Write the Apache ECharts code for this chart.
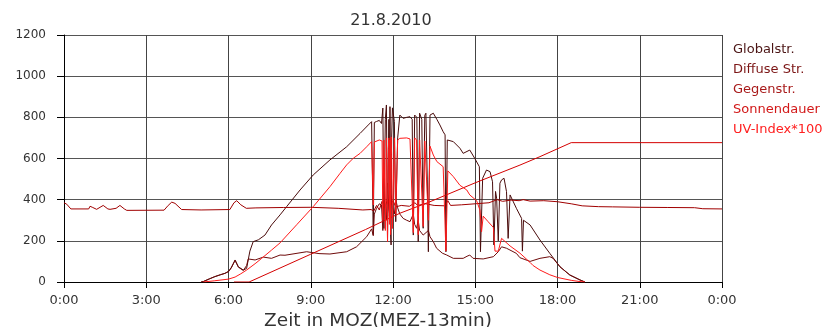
<!DOCTYPE html>
<html>
<head>
<meta charset="utf-8">
<script src="https://cdn.jsdelivr.net/npm/echarts@6/dist/echarts.min.js"></script>
<style>
  html, body { margin: 0; padding: 0; background: #fff; }
  #chart { width: 840px; height: 327px; }
</style>
</head>
<body>
<div id="chart"></div>
<script>
// Radiation measurements of 21 Aug 2010, time in decimal hours (local mean time)
const titleText = '21.8.2010';
const xTickLabels = ['0:00', '3:00', '6:00', '9:00', '12:00', '15:00', '18:00', '21:00', '0:00'];
const yTicks = [0, 200, 400, 600, 800, 1000, 1200];
const seriesNames = ['Globalstr.', 'Diffuse Str.', 'Gegenstr.', 'Sonnendauer', 'UV-Index*100'];

const globalHours = [5.0, 5.08, 5.3, 5.5, 5.7, 5.87, 6.0, 6.1, 6.24, 6.36, 6.54, 6.66, 6.78, 6.9, 7.09, 7.33, 7.57, 7.88, 8.12, 8.61, 9.09, 9.7, 10.31, 10.8, 11.1, 11.22, 11.25, 11.28, 11.32, 11.4, 11.5, 11.58, 11.63, 11.67, 11.72, 11.76, 11.8, 11.83, 11.85, 11.87, 11.89, 11.91, 11.93, 11.95, 11.98, 12.05, 12.1, 12.17, 12.25, 12.37, 12.5, 12.62, 12.7, 12.74, 12.79, 12.87, 12.92, 12.97, 13.05, 13.1, 13.16, 13.2, 13.25, 13.29, 13.35, 13.47, 13.6, 13.71, 13.83, 13.9, 13.93, 13.98, 14.2, 14.44, 14.56, 14.8, 14.98, 15.15, 15.19, 15.27, 15.41, 15.54, 15.63, 15.68, 15.74, 15.78, 15.84, 15.9, 15.96, 16.05, 16.14, 16.2, 16.27, 16.5, 16.69, 16.72, 16.76, 17.0, 17.36, 17.72, 18.09, 18.45, 18.82, 19.0];
const globalValues = [0, 2, 15, 26, 35, 42, 52, 70, 107, 74, 58, 66, 150, 196, 205, 228, 277, 326, 366, 447, 520, 593, 657, 722, 763, 779, 770, 230, 775, 780, 785, 770, 845, 260, 790, 860, 200, 600, 790, 320, 852, 240, 180, 700, 846, 780, 293, 700, 811, 795, 800, 803, 790, 228, 811, 800, 196, 820, 790, 261, 810, 820, 500, 147, 811, 820, 790, 763, 730, 715, 147, 690, 682, 650, 625, 641, 601, 560, 147, 504, 544, 536, 487, 180, 440, 407, 200, 480, 496, 504, 439, 212, 423, 358, 309, 150, 300, 277, 204, 139, 74, 34, 10, 0];

const diffuseHours = [5.0, 5.08, 5.3, 5.5, 5.7, 5.87, 6.0, 6.1, 6.24, 6.36, 6.54, 6.66, 6.72, 6.97, 7.27, 7.57, 7.88, 8.06, 8.85, 9.3, 9.7, 10.31, 10.67, 11.04, 11.22, 11.28, 11.32, 11.4, 11.5, 11.58, 11.63, 11.67, 11.72, 11.76, 11.8, 11.85, 11.89, 11.93, 11.98, 12.05, 12.1, 12.17, 12.25, 12.37, 12.5, 12.62, 12.74, 12.79, 12.86, 12.92, 12.97, 13.1, 13.29, 13.35, 13.47, 13.59, 13.8, 13.96, 14.2, 14.56, 14.7, 14.8, 14.92, 15.29, 15.66, 15.84, 15.96, 16.14, 16.5, 16.63, 17.0, 17.36, 17.72, 17.84, 18.09, 18.45, 18.82, 19.0];
const diffuseValues = [0, 2, 15, 26, 35, 42, 50, 68, 105, 72, 56, 80, 112, 107, 121, 115, 131, 130, 147, 138, 136, 147, 171, 220, 258, 225, 330, 358, 380, 374, 250, 440, 330, 300, 480, 350, 320, 420, 360, 330, 400, 360, 330, 309, 300, 293, 330, 280, 261, 300, 250, 228, 250, 220, 196, 164, 140, 131, 115, 115, 125, 131, 115, 112, 123, 147, 171, 164, 139, 118, 100, 115, 123, 115, 74, 34, 10, 0];

const gegenHours = [0.0, 0.1, 0.25, 0.9, 0.95, 1.05, 1.19, 1.43, 1.6, 1.68, 1.9, 2.04, 2.2, 2.29, 3.65, 3.8, 3.93, 4.05, 4.29, 5.0, 6.05, 6.2, 6.3, 6.45, 6.65, 7.0, 8.0, 9.0, 10.0, 10.9, 11.2, 11.3, 11.4, 11.5, 11.6, 11.7, 11.8, 11.9, 12.0, 12.1, 12.3, 12.6, 12.8, 12.9, 13.2, 13.5, 13.9, 14.0, 14.1, 14.5, 15.0, 15.5, 15.8, 16.0, 16.3, 16.6, 16.75, 17.0, 17.5, 18.0, 18.5, 18.9, 19.5, 20.0, 21.0, 22.0, 23.0, 23.3, 24.0];
const gegenValues = [385, 378, 355, 355, 368, 362, 353, 372, 355, 353, 358, 372, 355, 348, 349, 372, 388, 382, 352, 350, 352, 385, 395, 375, 358, 360, 362, 363, 358, 350, 352, 345, 372, 350, 392, 360, 402, 370, 395, 365, 372, 368, 385, 372, 380, 372, 370, 395, 372, 375, 380, 385, 400, 392, 398, 395, 400, 393, 395, 390, 380, 370, 366, 365, 363, 362, 361, 356, 355];

const sonnenHours = [6.2, 6.75, 9.0, 11.0, 12.25, 13.35, 15.0, 16.63, 17.36, 18.5, 24.0];
const sonnenValues = [0, 0, 135, 255, 334, 390, 482, 568, 609, 677, 677];

const uvHours = [5.08, 5.5, 6.0, 6.24, 6.45, 6.66, 7.0, 7.21, 7.57, 7.88, 8.5, 9.09, 9.7, 10.07, 10.31, 10.55, 10.8, 11.04, 11.22, 11.28, 11.32, 11.5, 11.6, 11.63, 11.67, 11.72, 11.76, 11.8, 11.83, 11.85, 11.87, 11.89, 11.91, 11.93, 11.95, 11.98, 12.05, 12.1, 12.17, 12.25, 12.5, 12.62, 12.74, 12.79, 12.86, 12.92, 12.97, 13.1, 13.16, 13.22, 13.29, 13.35, 13.47, 13.6, 13.83, 13.93, 14.0, 14.2, 14.44, 14.69, 14.8, 15.05, 15.17, 15.23, 15.29, 15.47, 15.66, 15.72, 15.84, 15.96, 16.27, 16.63, 17.0, 17.11, 17.36, 17.72, 18.0, 18.5, 18.82, 19.0];
const uvValues = [0, 6, 14, 24, 40, 58, 92, 115, 155, 190, 280, 366, 463, 528, 569, 601, 625, 657, 682, 374, 680, 690, 685, 300, 690, 250, 700, 196, 650, 700, 280, 690, 230, 705, 620, 260, 700, 330, 690, 698, 700, 695, 240, 700, 690, 230, 690, 270, 685, 690, 300, 660, 617, 585, 560, 150, 540, 512, 470, 447, 423, 395, 350, 244, 320, 293, 265, 150, 150, 212, 175, 140, 95, 80, 58, 35, 22, 8, 2, 0];

const lineColors = ['#4a0c0c', '#6e0a0a', '#a00000', '#d40000', '#ff1a1a'];
const legendColors = ['#4b1414', '#7b1414', '#a81a1a', '#d21818', '#ff2020'];

const pairs = (hours, values) => hours.map((h, i) => [h, values[i]]);
const seriesData = [
  pairs(globalHours, globalValues),
  pairs(diffuseHours, diffuseValues),
  pairs(gegenHours, gegenValues),
  pairs(sonnenHours, sonnenValues),
  pairs(uvHours, uvValues)
];

const FONT = 'DejaVu Sans';
const chart = echarts.init(document.getElementById('chart'), null, { renderer: 'canvas' });

chart.setOption({
  backgroundColor: '#ffffff',
  animation: false,
  title: {
    text: titleText,
    left: 386,
    top: 8,
    textAlign: 'center',
    textStyle: { fontFamily: FONT, fontSize: 16, fontWeight: 'normal', color: '#333' }
  },
  legend: {
    orient: 'vertical',
    left: 723,
    top: 38,
    itemWidth: 0,
    itemHeight: 14,
    itemGap: 6,
    icon: 'rect',
    data: seriesNames.map((n, i) => ({
      name: n,
      itemStyle: { opacity: 0 },
      textStyle: { color: legendColors[i], fontFamily: FONT, fontSize: 13 }
    }))
  },
  grid: { left: 64, right: 118, top: 35, bottom: 45, containLabel: false, outerBoundsMode: 'none' },
  xAxis: {
    type: 'value',
    min: 0,
    max: 24,
    interval: 3,
    name: 'Zeit in MOZ(MEZ-13min)',
    nameLocation: 'middle',
    nameGap: 23,
    nameTextStyle: { fontFamily: FONT, fontSize: 18.5, color: '#333', padding: [0, 30, 0, 0] },
    axisLine: { show: true, lineStyle: { color: '#000', width: 1 } },
    axisTick: { show: true, length: 6, lineStyle: { color: '#000' } },
    axisLabel: {
      fontFamily: FONT, fontSize: 13, color: '#333', margin: 12,
      formatter: v => xTickLabels[Math.round(v / 3)]
    },
    splitLine: { show: true, lineStyle: { color: '#444', width: 1 } }
  },
  yAxis: {
    type: 'value',
    min: yTicks[0],
    max: yTicks[yTicks.length - 1],
    interval: 200,
    axisLine: { show: true, lineStyle: { color: '#000', width: 1 } },
    axisTick: { show: true, length: 7, lineStyle: { color: '#000' } },
    axisLabel: { fontFamily: FONT, fontSize: 12, color: '#333', margin: 18, formatter: v => String(v) },
    splitLine: { show: true, lineStyle: { color: '#555', width: 1 } }
  },
  series: seriesNames.map((n, i) => ({
    name: n,
    type: 'line',
    data: seriesData[i],
    showSymbol: false,
    symbol: 'none',
    smooth: false,
    color: lineColors[i],
    lineStyle: { color: lineColors[i], width: 1 },
    emphasis: { disabled: true }
  }))
});
</script>
</body>
</html>
